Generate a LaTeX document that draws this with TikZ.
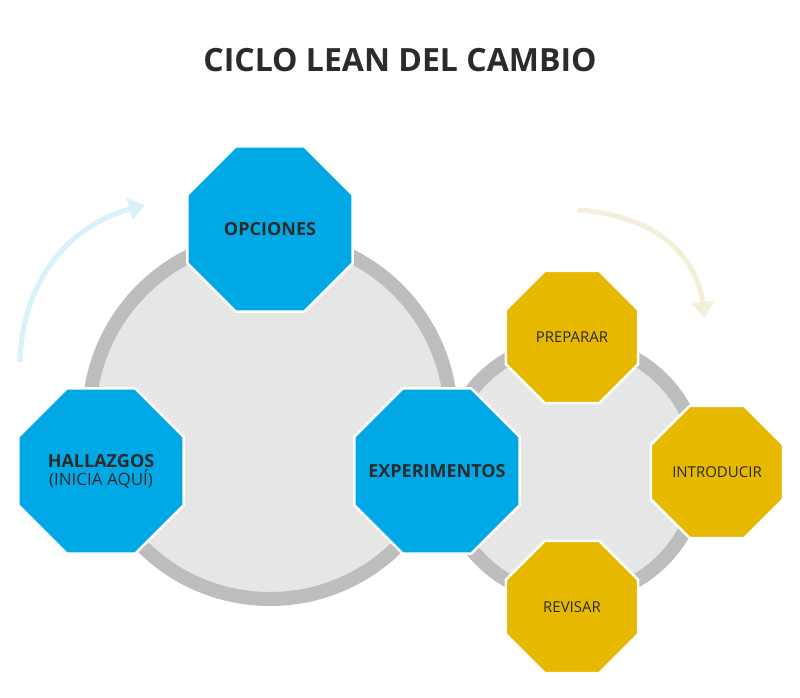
\documentclass[tikz,border=0pt]{standalone}
\usepackage{fontspec}
\setmainfont{Open Sans}
\usetikzlibrary{shapes.geometric,arrows.meta}
\definecolor{blueoct}{HTML}{00A9E6}
\definecolor{yeloct}{HTML}{E6B800}
\definecolor{ringc}{HTML}{BDBDBD}
\definecolor{fillc}{HTML}{E6E6E6}
\definecolor{txt}{HTML}{2B2B2B}
\definecolor{arrb}{HTML}{D8F1FA}
\definecolor{arry}{HTML}{F3EFDA}
\tikzset{
 oct/.style={regular polygon,regular polygon sides=8,inner sep=0pt,draw=white,line width=2.5pt},
 bigoct/.style={oct,fill=blueoct,minimum size=179pt},
 smalloct/.style={oct,fill=yeloct,minimum size=143pt},
 biglab/.style={text=txt,align=center,font=\bfseries\fontsize{18}{20}\selectfont},
 smalllab/.style={text=txt,align=center,font=\fontsize{15}{17}\selectfont},
 ring/.style={draw=ringc,fill=fillc,line width=14pt},
 flow/.style={line width=5pt,-{Triangle[length=16pt,width=22pt]}}
}
\begin{document}
\begin{tikzpicture}[x=1pt,y=-1pt]
\useasboundingbox[fill=white] (0,0) rectangle (800,698);
\node[font=\bfseries\fontsize{32}{36}\selectfont,text=txt] (title) at (400,60) {CICLO LEAN DEL CAMBIO};
\node[ring,circle,minimum size=256pt] (small) at (572,470) {};
\node[ring,circle,minimum size=362pt] (big) at (270,418) {};
\coordinate (ab1) at (20,362);
\coordinate (ab2) at (145,205);
\draw[flow,arrb] (ab1) .. controls (22,280) and (70,225) .. (ab2);
\coordinate (ay1) at (578,210);
\coordinate (ay2) at (705,318);
\draw[flow,arry] (ay1) .. controls (650,215) and (695,250) .. (ay2);
\node[bigoct] (opc) at (270,229) {};
\node[biglab] at (opc) {OPCIONES};
\node[bigoct] (hal) at (101,471) {};
\node[biglab] at (hal) {HALLAZGOS\\[-2pt]{\mdseries\fontsize{17}{19}\selectfont (INICIA AQUÍ)}};
\node[bigoct] (exp) at (437,471) {};
\node[biglab] at (exp) {EXPERIMENTOS};
\node[smalloct] (pre) at (572,337) {};
\node[smalllab] at (pre) {PREPARAR};
\node[smalloct] (int) at (717,472) {};
\node[smalllab] at (int) {INTRODUCIR};
\node[smalloct] (rev) at (572,607) {};
\node[smalllab] at (rev) {REVISAR};
\end{tikzpicture}
\end{document}
